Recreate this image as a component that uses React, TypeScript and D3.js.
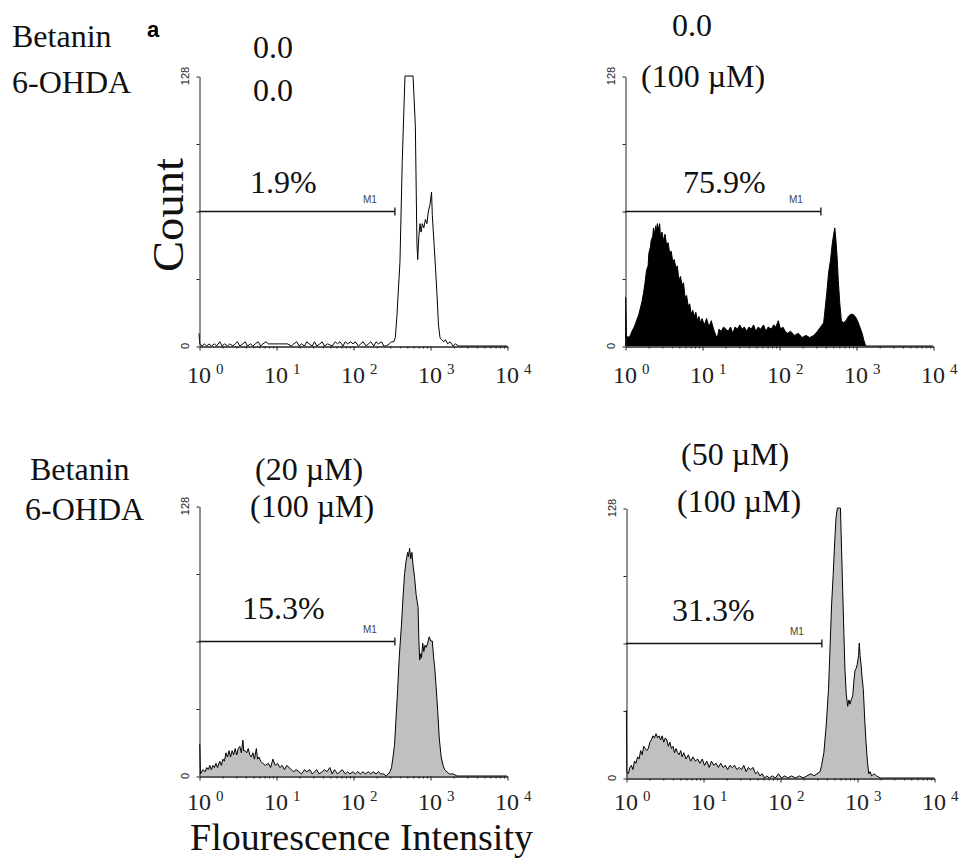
import * as d3 from "d3";
import { useEffect, useRef } from "react";

const W = 965;
const H = 858;

// histograms: [log10 fluorescence, count]
const controlHist: [number, number][] = [
  [0, 6], [0.01, 1], [0.04, 0], [0.07, 1], [0.1, 0], [0.13, 1], [0.16, 0], [0.2, 1], [0.23, 0], [0.27, 2],
  [0.3, 0], [0.33, 1], [0.37, 0], [0.4, 1], [0.44, 0], [0.47, 1], [0.5, 2], [0.53, 0], [0.57, 1], [0.6, 2],
  [0.63, 0], [0.67, 1], [0.7, 0], [0.73, 1], [0.77, 2], [0.8, 0], [0.83, 1], [0.87, 2], [0.9, 1], [0.97, 1],
  [1.05, 1], [1.15, 1], [1.2, 0], [1.23, 1], [1.27, 2], [1.3, 0], [1.33, 1], [1.37, 0], [1.4, 2], [1.43, 1],
  [1.47, 0], [1.5, 2], [1.53, 0], [1.57, 1], [1.6, 2], [1.63, 0], [1.67, 1], [1.73, 0], [1.77, 2], [1.8, 1],
  [1.83, 2], [1.87, 0], [1.9, 2], [1.93, 1], [1.97, 2], [2.0, 1], [2.03, 2], [2.07, 0], [2.1, 1], [2.13, 2],
  [2.17, 0], [2.2, 1], [2.23, 2], [2.27, 0], [2.3, 2], [2.33, 1], [2.37, 2], [2.4, 0], [2.43, 0], [2.47, 1],
  [2.5, 2], [2.53, 2], [2.55, 4], [2.57, 14], [2.61, 40], [2.64, 88], [2.675, 128], [2.78, 128], [2.81, 104],
  [2.83, 49], [2.84, 41], [2.855, 52], [2.87, 58], [2.885, 54], [2.9, 58], [2.92, 56], [2.94, 60], [2.96, 58],
  [2.98, 64], [3.0, 67], [3.02, 73], [3.03, 62], [3.05, 50], [3.07, 38], [3.09, 25], [3.11, 10], [3.13, 4],
  [3.15, 3], [3.18, 2], [3.2, 3], [3.23, 1], [3.26, 2], [3.3, 0], [3.33, 1], [3.37, 0], [4, 0],
];

const ohdaHist: [number, number][] = [
  [0, 23], [0.01, 23], [0.02, 5], [0.04, 4], [0.07, 5], [0.09, 7], [0.12, 9], [0.14, 11], [0.16, 13],
  [0.18, 15], [0.2, 18], [0.22, 21], [0.24, 25], [0.26, 30], [0.28, 36], [0.3, 38], [0.31, 44], [0.33, 47],
  [0.34, 50], [0.36, 52], [0.37, 56], [0.38, 53], [0.4, 57], [0.41, 54], [0.42, 58], [0.44, 55], [0.45, 58],
  [0.46, 52], [0.48, 54], [0.5, 50], [0.52, 53], [0.54, 48], [0.56, 49], [0.58, 44], [0.6, 45], [0.62, 40],
  [0.64, 41], [0.66, 37], [0.68, 38], [0.7, 31], [0.72, 33], [0.74, 29], [0.76, 30], [0.78, 23], [0.8, 24],
  [0.82, 19], [0.84, 20], [0.86, 15], [0.88, 17], [0.9, 14], [0.92, 16], [0.94, 12], [0.96, 14], [0.98, 11],
  [1.0, 13], [1.03, 10], [1.06, 13], [1.09, 9], [1.12, 12], [1.15, 8], [1.18, 5], [1.2, 4], [1.22, 8],
  [1.25, 7], [1.28, 9], [1.31, 8], [1.34, 7], [1.37, 9], [1.4, 6], [1.43, 9], [1.46, 8], [1.49, 10],
  [1.52, 8], [1.55, 9], [1.58, 7], [1.61, 9], [1.64, 8], [1.67, 10], [1.7, 7], [1.73, 9], [1.76, 8],
  [1.8, 10], [1.83, 7], [1.86, 9], [1.9, 8], [1.93, 10], [1.96, 9], [1.99, 12], [2.02, 8], [2.05, 9],
  [2.08, 7], [2.11, 6], [2.15, 7], [2.2, 5], [2.25, 6], [2.3, 4], [2.35, 5], [2.4, 4], [2.45, 5], [2.5, 7],
  [2.54, 9], [2.58, 11], [2.6, 18], [2.62, 25], [2.645, 35], [2.67, 41], [2.69, 48], [2.71, 53], [2.725, 56],
  [2.74, 50], [2.755, 42], [2.77, 31], [2.79, 20], [2.81, 12], [2.84, 11], [2.87, 12], [2.9, 14], [2.93, 15],
  [2.96, 15], [2.99, 14], [3.02, 12], [3.05, 9], [3.08, 6], [3.1, 3], [3.125, 0], [3.2, 0], [4, 0],
];

const betanin20Hist: [number, number][] = [
  [0, 15], [0.01, 15], [0.02, 1], [0.05, 3], [0.08, 2], [0.1, 4], [0.12, 3], [0.14, 5], [0.16, 3], [0.18, 5],
  [0.2, 4], [0.22, 6], [0.24, 4], [0.27, 7], [0.29, 5], [0.31, 8], [0.33, 7], [0.35, 11], [0.37, 9],
  [0.39, 12], [0.41, 9], [0.43, 12], [0.45, 10], [0.47, 13], [0.49, 10], [0.51, 13], [0.53, 14], [0.55, 11],
  [0.57, 17], [0.58, 12], [0.6, 12], [0.62, 11], [0.64, 13], [0.66, 10], [0.68, 9], [0.7, 11], [0.72, 8],
  [0.745, 13], [0.76, 8], [0.78, 9], [0.8, 7], [0.83, 6], [0.86, 5], [0.9, 6], [0.93, 4], [0.96, 8],
  [0.99, 5], [1.02, 6], [1.05, 4], [1.08, 5], [1.11, 3], [1.14, 5], [1.17, 4], [1.2, 3], [1.23, 2],
  [1.26, 3], [1.3, 2], [1.33, 1], [1.37, 3], [1.4, 2], [1.44, 3], [1.47, 1], [1.5, 2], [1.53, 3], [1.56, 1],
  [1.6, 2], [1.63, 3], [1.66, 2], [1.7, 4], [1.73, 1], [1.76, 3], [1.8, 1], [1.83, 2], [1.86, 3], [1.9, 1],
  [1.93, 2], [1.96, 1], [2.0, 2], [2.03, 1], [2.06, 2], [2.1, 1], [2.13, 2], [2.16, 1], [2.2, 2], [2.23, 1],
  [2.26, 2], [2.3, 1], [2.33, 2], [2.36, 1], [2.4, 1], [2.43, 0], [2.46, 1], [2.48, 2], [2.5, 4], [2.52, 9],
  [2.54, 15], [2.56, 28], [2.58, 41], [2.6, 56], [2.63, 72], [2.65, 85], [2.67, 96], [2.69, 102],
  [2.71, 106], [2.72, 104], [2.735, 108], [2.75, 103], [2.765, 106], [2.78, 100], [2.8, 94], [2.82, 86],
  [2.845, 80], [2.855, 65], [2.866, 55], [2.88, 58], [2.89, 56], [2.905, 63], [2.92, 59], [2.935, 62],
  [2.95, 61], [2.97, 63], [2.99, 66], [3.01, 64], [3.03, 64], [3.05, 55], [3.06, 52], [3.08, 42], [3.1, 31],
  [3.12, 18], [3.145, 9], [3.17, 5], [3.19, 3], [3.22, 2], [3.25, 1], [3.3, 1], [3.35, 0], [4, 0],
];

const betanin50Hist: [number, number][] = [
  [0, 32], [0.005, 32], [0.01, 3], [0.03, 2], [0.05, 5], [0.07, 6], [0.09, 4], [0.11, 8], [0.13, 7],
  [0.15, 10], [0.17, 9], [0.19, 13], [0.21, 11], [0.23, 15], [0.25, 14], [0.27, 13], [0.29, 14], [0.31, 17],
  [0.33, 18], [0.35, 20], [0.37, 19], [0.39, 21], [0.41, 19], [0.43, 20], [0.45, 18], [0.47, 20], [0.49, 17],
  [0.51, 19], [0.53, 18], [0.55, 15], [0.57, 17], [0.59, 14], [0.61, 15], [0.63, 12], [0.65, 14], [0.67, 12],
  [0.69, 11], [0.71, 13], [0.73, 10], [0.75, 12], [0.78, 9], [0.81, 11], [0.84, 8], [0.87, 10], [0.9, 8],
  [0.93, 9], [0.96, 7], [0.99, 9], [1.02, 6], [1.05, 8], [1.08, 5], [1.11, 8], [1.14, 6], [1.17, 7], [1.2, 5],
  [1.23, 7], [1.26, 5], [1.29, 6], [1.32, 4], [1.35, 6], [1.38, 5], [1.41, 6], [1.44, 4], [1.47, 5], [1.5, 4],
  [1.53, 6], [1.56, 3], [1.59, 5], [1.62, 4], [1.65, 5], [1.68, 2], [1.71, 3], [1.74, 1], [1.77, 2], [1.8, 0],
  [1.83, 1], [1.86, 0], [1.9, 1], [1.94, 0], [1.98, 2], [2.02, 0], [2.06, 1], [2.1, 0], [2.15, 1], [2.2, 0],
  [2.25, 1], [2.3, 0], [2.35, 1], [2.4, 2], [2.44, 1], [2.48, 2], [2.52, 3], [2.54, 6], [2.57, 12], [2.6, 25],
  [2.63, 42], [2.65, 62], [2.67, 82], [2.69, 96], [2.7, 104], [2.715, 115], [2.727, 123], [2.745, 128],
  [2.785, 128], [2.8, 108], [2.814, 89], [2.83, 68], [2.844, 51], [2.86, 40], [2.879, 34], [2.895, 37],
  [2.909, 35], [2.925, 37], [2.944, 39], [2.96, 46], [2.974, 51], [2.99, 52], [3.004, 54], [3.02, 58],
  [3.03, 64], [3.04, 58], [3.052, 54], [3.065, 48], [3.082, 42], [3.1, 28], [3.117, 17], [3.135, 8],
  [3.152, 2], [3.17, 3], [3.19, 1], [3.22, 2], [3.255, 1], [3.3, 0], [3.36, 0], [4, 0],
];

const gatePercents = ["1.9%", "75.9%", "15.3%", "31.3%"];
const gateEnd = 350; // M1 marker end on the fluorescence axis
const gateLevel = 64;
const yTicks = [0, 32, 64, 96, 128];
const decadeExps = [0, 1, 2, 3, 4];
const betaninDoses = ["0.0", "0.0", "(20 µM)", "(50 µM)"];
const ohdaDoses = ["0.0", "(100 µM)", "(100 µM)", "(100 µM)"];

const serif = '"Liberation Serif", "Times New Roman", Times, serif';
const sans = '"Liberation Sans", Arial, Helvetica, sans-serif';

const App = () => {
  const svgRef = useRef(null);

  useEffect(() => {
    const svg = d3.select(svgRef.current);
    svg.selectAll("*").remove();

    // panel placement
    const panels = [
      { data: controlHist, x0: 199, base: 346, fill: "none", px: 250, py: 193, ly: 383,
        doses: [{ x: 253, y: 58 }, { x: 253, y: 101 }] },
      { data: ohdaHist, x0: 625, base: 346, fill: "#000", px: 683, py: 193, ly: 383,
        doses: [{ x: 672, y: 36 }, { x: 641, y: 87 }] },
      { data: betanin20Hist, x0: 199, base: 776, fill: "#c0c0c0", px: 242, py: 619, ly: 810,
        doses: [{ x: 255, y: 480 }, { x: 250, y: 517 }] },
      { data: betanin50Hist, x0: 626, base: 778, fill: "#c0c0c0", px: 672, py: 621, ly: 810,
        doses: [{ x: 681, y: 465 }, { x: 677, y: 512 }] },
    ];

    panels.forEach((p, i) => {
      const x = d3.scaleLog().domain([1, 1e4]).range([p.x0, p.x0 + 308]);
      const y = d3.scaleLinear().domain([0, 128]).range([p.base, p.base - 270]);
      const g = svg.append("g");

      const px = (d) => x(Math.pow(10, d[0]));
      const py = (d) => y(Math.min(d[1], 128));

      if (p.fill !== "none") {
        const area = d3.area().x(px).y0(p.base).y1(py);
        g.append("path").attr("d", area(p.data)).attr("fill", p.fill);
      }
      const line = d3.line().x(px).y(py);
      g.append("path")
        .attr("d", line(p.data))
        .attr("fill", "none")
        .attr("stroke", "#000")
        .attr("stroke-width", 1);

      // x axis: minor and major ticks pointing down
      const minor = [];
      for (let e = 0; e < 4; e++) for (let m = 2; m <= 9; m++) minor.push(m * Math.pow(10, e));
      const axX = g.append("g").attr("transform", `translate(0.5, ${p.base + 0.5})`);
      axX.call(d3.axisBottom(x).tickValues(minor).tickSize(2).tickSizeOuter(0).tickFormat(() => ""));
      axX.append("g").call(
        d3.axisBottom(x).tickValues(decadeExps.map((e) => Math.pow(10, e))).tickSize(4).tickSizeOuter(0).tickFormat(() => "")
      );
      axX.selectAll("path, line").attr("stroke", "#222");

      // y axis
      const axY = g.append("g").attr("transform", `translate(${p.x0 + 0.5}, 0.5)`);
      axY.call(d3.axisLeft(y).tickValues(yTicks).tickSize(3).tickSizeOuter(0).tickFormat(() => ""));
      axY.selectAll("path, line").attr("stroke", "#222");

      [0, 128].forEach((v) => {
        g.append("text")
          .attr("transform", `translate(${p.x0 - 10}, ${y(v)}) rotate(-90)`)
          .attr("text-anchor", "middle")
          .style("font-family", sans)
          .attr("font-size", 11)
          .attr("fill", "#222")
          .text(v);
      });

      // decade labels 10^n
      decadeExps.forEach((e) => {
        const t = g.append("text")
          .attr("x", x(Math.pow(10, e)) - 12)
          .attr("y", p.ly)
          .style("font-family", serif)
          .attr("font-size", 24)
          .attr("fill", "#222");
        t.append("tspan").text("10");
        t.append("tspan").attr("dx", 5).attr("dy", -9).attr("font-size", 15).text(e);
      });

      // M1 gate marker
      const gy = Math.round(y(gateLevel)) + 0.5;
      const gx = x(gateEnd);
      g.append("line").attr("x1", p.x0).attr("x2", gx).attr("y1", gy).attr("y2", gy)
        .attr("stroke", "#111").attr("stroke-width", 1.3);
      g.append("line").attr("x1", gx).attr("x2", gx).attr("y1", gy - 4).attr("y2", gy + 4)
        .attr("stroke", "#111").attr("stroke-width", 1.3);
      g.append("text")
        .attr("x", gx - 18)
        .attr("y", gy - 9)
        .attr("text-anchor", "end")
        .style("font-family", sans)
        .attr("font-size", 10)
        .attr("fill", "#444")
        .text("M1");

      g.append("text")
        .attr("x", p.px)
        .attr("y", p.py)
        .style("font-family", serif)
        .attr("font-size", 32)
        .attr("fill", "#111")
        .text(gatePercents[i]);

      [betaninDoses[i], ohdaDoses[i]].forEach((s, k) => {
        g.append("text")
          .attr("x", p.doses[k].x)
          .attr("y", p.doses[k].y)
          .style("font-family", serif)
          .attr("font-size", 32)
          .attr("fill", "#111")
          .text(s);
      });
    });

    // row headers
    const headers = [
      { s: "Betanin", x: 12, y: 47 },
      { s: "6-OHDA", x: 12, y: 93 },
      { s: "Betanin", x: 30, y: 480 },
      { s: "6-OHDA", x: 25, y: 520 },
    ];
    headers.forEach((h) => {
      svg.append("text")
        .attr("x", h.x)
        .attr("y", h.y)
        .style("font-family", serif)
        .attr("font-size", 32)
        .attr("fill", "#111")
        .text(h.s);
    });

    svg.append("text")
      .attr("x", 147)
      .attr("y", 37)
      .style("font-family", sans)
      .attr("font-weight", "bold")
      .attr("font-size", 22)
      .text("a");

    svg.append("text")
      .attr("transform", "translate(183, 215) rotate(-90)")
      .attr("text-anchor", "middle")
      .style("font-family", serif)
      .attr("font-size", 44)
      .attr("textLength", 114)
      .attr("lengthAdjust", "spacingAndGlyphs")
      .attr("fill", "#111")
      .text("Count");

    svg.append("text")
      .attr("x", 190)
      .attr("y", 850)
      .style("font-family", serif)
      .attr("font-size", 38)
      .attr("fill", "#111")
      .text("Flourescence Intensity");
  }, []);

  return (
    <svg
      ref={svgRef}
      width={W}
      height={H}
      style={{ position: "absolute", left: 0, top: 0, background: "#fff" }}
    />
  );
};

export default App;
